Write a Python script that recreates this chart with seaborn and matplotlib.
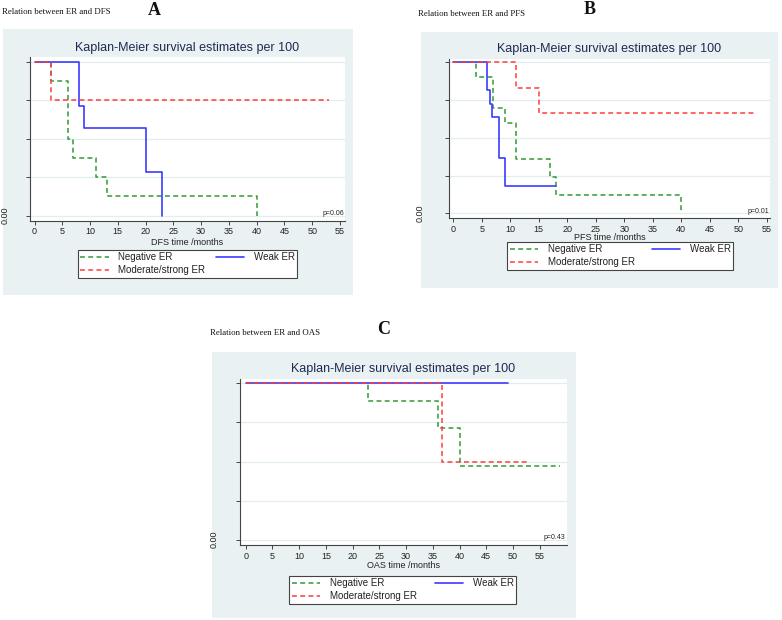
import matplotlib
matplotlib.use('Agg')
import matplotlib.pyplot as plt
import seaborn as sns
from matplotlib.patches import Rectangle
from matplotlib.transforms import blended_transform_factory

# Survival curves (time in months, survival fraction)
dfs_neg_t = [0, 3, 6, 7, 11, 13, 40]
dfs_neg_s = [1, 0.875, 0.5, 0.375, 0.25, 0.125, 0]
dfs_weak_t = [0, 8, 9, 20, 23]
dfs_weak_s = [1, 0.714, 0.571, 0.286, 0]
dfs_mod_t = [0, 3, 53]
dfs_mod_s = [1, 0.75, 0.75]

pfs_neg_t = [0, 4, 7, 9, 11, 17, 18, 40]
pfs_neg_s = [1, 0.9, 0.7, 0.6, 0.36, 0.24, 0.12, 0]
pfs_weak_t = [0, 6, 6.4, 6.85, 8, 9, 18]
pfs_weak_s = [1, 0.818, 0.727, 0.636, 0.364, 0.182, 0.182]
pfs_mod_t = [0, 11, 15, 53]
pfs_mod_s = [1, 0.833, 0.667, 0.667]

oas_neg_t = [0, 22.8, 35.9, 40, 58.8]
oas_neg_s = [1, 0.889, 0.711, 0.474, 0.474]
oas_weak_t = [0, 49.1]
oas_weak_s = [1, 1]
oas_mod_t = [0, 36.7, 52.7]
oas_mod_s = [1, 0.5, 0.5]

group_names = ['Negative ER', 'Weak ER', 'Moderate/strong ER']
x_ticks = list(range(0, 60, 5))
y_ticks = [0, 0.25, 0.5, 0.75, 1]
p_values = ['p=0.06', 'p=0.01', 'p=0.43']
x_labels = ['DFS time /months', 'PFS time /months', 'OAS time /months']
captions = ['Relation between ER and DFS', 'Relation between ER and PFS', 'Relation between ER and OAS']
letters = ['A', 'B', 'C']

W, H = 782, 620
BG = '#eaf1f3'
GRID = '#e3ecef'
TITLE_C = '#1f2a52'
GREEN, BLUE, RED = '#2f9a35', '#3b3bff', '#ff3c3c'

sns.set_style('white')
plt.rcParams['font.family'] = ['Liberation Sans', 'DejaVu Sans']

fig = plt.figure(figsize=(W / 100, H / 100), dpi=100)


def fx(px):
    return px / W


def fy(py):
    return 1 - py / H


def draw_panel(box, axbox, x0px, x55px, y1px, y0px, curves, xlab, pval, leg_box, title_xy, zero_x):
    # grey graph region behind the plot
    bx0, by0, bx1, by1 = box
    fig.patches.append(Rectangle((fx(bx0), fy(by1)), (bx1 - bx0) / W, (by1 - by0) / H,
                                 transform=fig.transFigure, facecolor=BG, edgecolor='none', zorder=-5))
    l, t, r, b = axbox
    ax = fig.add_axes([fx(l), fy(b), (r - l) / W, (b - t) / H])
    ax.set_facecolor('white')
    ppm = (x55px - x0px) / 55.0
    ppu = y0px - y1px
    ax.set_xlim((l - x0px) / ppm, (r - x0px) / ppm)
    ax.set_ylim(-(b - y0px) / ppu, (y0px - t) / ppu)

    for yv in y_ticks:
        ax.axhline(yv, color=GRID, lw=0.9, zorder=1)

    t_neg, s_neg, t_weak, s_weak, t_mod, s_mod = curves
    sns.lineplot(x=t_neg, y=s_neg, ax=ax, color=GREEN, lw=1.1, drawstyle='steps-post',
                 linestyle=(0, (3.2, 2.2)), estimator=None, sort=False, errorbar=None,
                 label=group_names[0], zorder=3)
    sns.lineplot(x=t_weak, y=s_weak, ax=ax, color=BLUE, lw=1.2, drawstyle='steps-post',
                 estimator=None, sort=False, errorbar=None, label=group_names[1], zorder=4)
    sns.lineplot(x=t_mod, y=s_mod, ax=ax, color=RED, lw=1.1, drawstyle='steps-post',
                 linestyle=(0, (3.2, 2.2)), estimator=None, sort=False, errorbar=None,
                 label=group_names[2], zorder=5)

    ax.set_xticks(x_ticks)
    ax.set_xticklabels([str(v) for v in x_ticks], fontsize=6.5, color='#222222')
    ax.set_yticks(y_ticks)
    ax.set_yticklabels([])
    ax.tick_params(axis='both', direction='out', length=3, width=0.7, color='#444444', pad=2,
                   bottom=True, left=True)
    for side in ['top', 'right']:
        ax.spines[side].set_visible(False)
    for side in ['left', 'bottom']:
        ax.spines[side].set_color('#444444')
        ax.spines[side].set_linewidth(0.8)

    ax.set_xlabel(xlab, fontsize=6.5, color='#222222')
    ax.xaxis.set_label_coords(0.5, -(title_xy[2] - b) / (b - t))
    ax.xaxis.label.set_va('center')
    ax.set_ylabel('')

    # rotated label of the bottom y tick, sitting at the panel's left edge
    ytrans = blended_transform_factory(fig.transFigure, ax.transData)
    ax.text(fx(zero_x), 0, '0.00', transform=ytrans, rotation=90, ha='center', va='center',
            fontsize=6.5, color='#222222')

    ptrans = blended_transform_factory(ax.transAxes, ax.transData)
    ax.text(0.996, 0.012, pval, transform=ptrans, ha='right', va='center', fontsize=5, color='#222222')

    fig.text(fx(title_xy[0]), fy(title_xy[1]), 'Kaplan-Meier survival estimates per 100',
             ha='center', va='center', fontsize=9, color=TITLE_C)

    h = ax.get_lines()
    handles = [h[-3], h[-1], h[-2]]
    labels = [group_names[0], group_names[2], group_names[1]]
    lx0, ly0, lx1, ly1 = leg_box
    leg = ax.legend(handles, labels, ncol=2, mode='expand', loc='upper left',
                    bbox_to_anchor=(fx(lx0), fy(ly0), (lx1 - lx0) / W, 0),
                    bbox_transform=fig.transFigure, fontsize=7, frameon=True, fancybox=False,
                    framealpha=1, edgecolor='#444444', borderpad=0.25, labelspacing=0.3,
                    handlelength=2.9, handletextpad=1.0, borderaxespad=0)
    leg.get_frame().set_linewidth(0.8)
    for txt in leg.get_texts():
        txt.set_color('#222222')
    return ax


draw_panel((3, 29, 353, 295), (30, 57, 345, 220.5), 34.5, 340, 61.7, 215.7,
           (dfs_neg_t, dfs_neg_s, dfs_weak_t, dfs_weak_s, dfs_mod_t, dfs_mod_s),
           x_labels[0], p_values[0], (78, 250, 297, 280), (187, 48, 242), 5.0)
draw_panel((421, 32, 778, 288), (449.3, 59.3, 770, 218.3), 453.3, 766.7, 62.3, 213.3,
           (pfs_neg_t, pfs_neg_s, pfs_weak_t, pfs_weak_s, pfs_mod_t, pfs_mod_s),
           x_labels[1], p_values[1], (507.3, 242, 733, 272), (609.5, 49, 238), 420.5)
draw_panel((212, 352, 576, 618), (240, 379.3, 566.7, 545), 245.7, 539.7, 383.3, 539.7,
           (oas_neg_t, oas_neg_s, oas_weak_t, oas_weak_s, oas_mod_t, oas_mod_s),
           x_labels[2], p_values[2], (289.3, 576, 516, 606), (403.5, 369, 566), 214.0)

# captions and panel letters above each graph
cap_pos = [(2, 11.7), (418.3, 13.7), (210, 333)]
let_pos = [(154, 10.5), (590, 9.7), (383.7, 329.7)]
for (cx, cy), (lx, ly), cap, let in zip(cap_pos, let_pos, captions, letters):
    fig.text(fx(cx), fy(cy), cap, ha='left', va='center', fontsize=6.3,
             family=['Liberation Serif', 'DejaVu Serif'], color='#111111')
    fig.text(fx(lx), fy(ly), let, ha='center', va='center', fontsize=13, fontweight='bold',
             family=['Liberation Serif', 'DejaVu Serif'], color='#111111')

fig.savefig('out.png', dpi=100)
